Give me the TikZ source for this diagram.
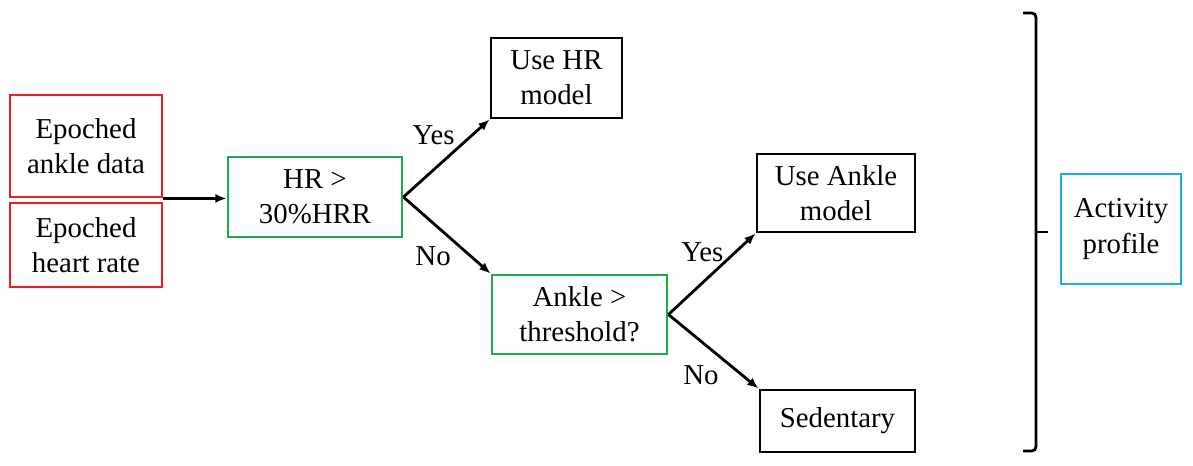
\documentclass[tikz,border=0pt]{standalone}
\usepackage{fontspec}
\setmainfont{Liberation Serif}
\usetikzlibrary{arrows.meta}
\definecolor{rojo}{RGB}{238,28,36}
\definecolor{verde}{RGB}{34,170,72}
\definecolor{azul}{RGB}{30,170,235}
\tikzset{
  caja/.style={draw, line width=2pt, align=center, inner sep=0pt,
    font=\fontsize{20.5}{25}\selectfont},
  flecha/.style={line width=2pt, -{Latex[length=8pt,width=6.5pt]}},
  etiqueta/.style={inner sep=0pt, font=\fontsize{20.5}{25}\selectfont}
}
\begin{document}
\begin{tikzpicture}[x=0.025cm, y=-0.025cm]
          \useasboundingbox (0,0) rectangle (1193,466);

          % Datos de entrada
          \node[caja, draw=rojo, minimum width=3.8cm, minimum height=2.55cm] (tobillo) at (86,146) {Epoched\\ankle data};
          \node[caja, draw=rojo, minimum width=3.8cm, minimum height=2.1cm] (pulso) at (86,245) {Epoched\\heart rate};

          % Decisiones
          \node[caja, draw=verde, minimum width=4.35cm, minimum height=2cm] (hr) at (315,197) {HR >\\30\%HRR};
          \node[caja, draw=verde, minimum width=4.375cm, minimum height=1.975cm] (umbral) at (579.5,314.5) {Ankle >\\threshold?};

          % Resultados
          \node[caja, minimum width=3.275cm, minimum height=2cm] (modelohr) at (556.5,78) {Use HR\\model};
          \node[caja, minimum width=3.95cm, minimum height=1.95cm] (modelotob) at (836,193) {Use Ankle\\model};
          \node[caja, minimum width=3.875cm, minimum height=1.55cm] (sedent) at (837.5,421) {Sedentary};
          \node[caja, draw=azul, minimum width=3cm, minimum height=2.75cm] (perfil) at (1121,229) {Activity\\profile};

          % Flechas
          \draw[flecha] (tobillo.south east) -- (tobillo.south east -| hr.west);
          \draw[flecha] (hr.east) -- (modelohr.south west) node[etiqueta, pos=0.35, above=0.6cm] {Yes};
          \draw[flecha] (hr.east) -- (umbral.north west) node[etiqueta, pos=0.34, below=0.56cm] {No};
          \draw[flecha] (umbral.east) -- (modelotob.south west) node[etiqueta, pos=0.39, above=0.5cm] {Yes};
          \draw[flecha] (umbral.east) -- (sedent.north west) node[etiqueta, pos=0.36, below=0.57cm] {No};

          % Llave
          \draw[line width=2pt, rounded corners=3pt] (1023,13) -- (1036,13) -- (1036,451) -- (1023,451);
          \draw[line width=2pt] (1036,232) -- (1048,232);

        \end{tikzpicture}
\end{document}
